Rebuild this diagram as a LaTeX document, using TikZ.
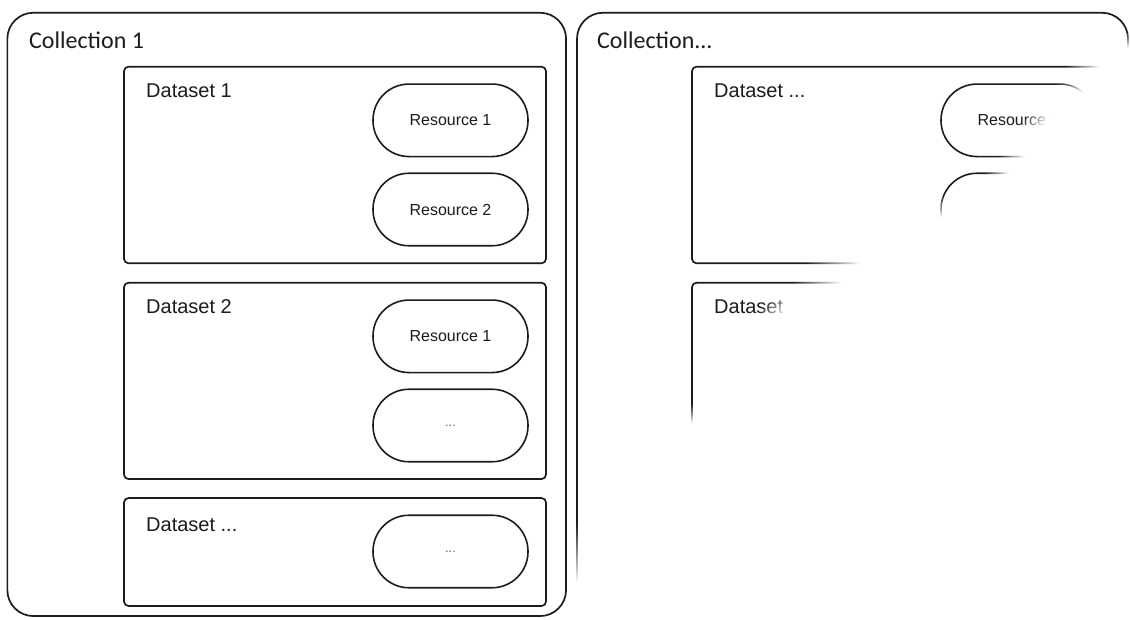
\documentclass[tikz,border=0pt]{standalone}
\usepackage{fontspec}
\setmainfont{Liberation Sans}
\newfontfamily\colfont{Carlito}
\usetikzlibrary{calc}
\definecolor{ink}{HTML}{1C1C1C}
\tikzset{
  coll/.style={draw=ink, line width=1.7pt, rounded corners=26pt, inner sep=0pt, outer sep=0pt, minimum width=#1},
  dset/.style={draw=ink, line width=1.7pt, rounded corners=4.5pt, inner sep=0pt, outer sep=0pt, minimum width=422pt},
  res/.style={draw=ink, line width=1.6pt, rounded corners=36pt, inner sep=0pt, outer sep=0pt, minimum width=155pt, minimum height=72.5pt, font=\fontsize{16}{18}\selectfont, text=ink},
  clabel/.style={anchor=base west, inner sep=0pt, font=\colfont\fontsize{24}{26}\selectfont, text=ink},
  dlabel/.style={anchor=base west, inner sep=0pt, font=\fontsize{20}{22}\selectfont, text=ink},
  dots/.style={font=\fontsize{13}{15}\selectfont, text=black!60}
}
\begin{document}
\begin{tikzpicture}[x=1pt,y=-1pt]
\useasboundingbox (0,0) rectangle (1130,619);
\fill[white] (0,0) rectangle (1130,619);

% ---------- Collection 1 ----------
\node[coll=558.7pt, minimum height=603.3pt] (c1) at (286.7,314.4) {};
\node[clabel] (c1l) at (29,48.3) {Collection 1};

\node[dset, minimum height=196.6pt] (d11) at (335,165) {};
\node[dlabel] (d11l) at (146,97.3) {Dataset 1};
\node[res] (r111) at (450.5,120.3) {Resource 1};
\node[res] (r112) at (450.5,209.5) {Resource 2};

\node[dset, minimum height=196.3pt] (d12) at (335,380.9) {};
\node[dlabel] (d12l) at (146,313) {Dataset 2};
\node[res] (r121) at (450.5,336.3) {Resource 1};
\node[res, dots] (r122) at (450.5,425.5) {...};

\node[dset, minimum height=108pt] (d13) at (335,552) {};
\node[dlabel] (d13l) at (146,531) {Dataset ...};
\node[res, dots] (r131) at (450.5,551.5) {...};

% ---------- Collection ... ----------
\node[coll=551pt, minimum height=603.3pt] (c2) at (852.5,314.4) {};
\node[clabel] (c2l) at (597,48.3) {Collection...};

\node[dset, minimum height=196.6pt] (d21) at (903,165) {};
\node[dlabel] (d21l) at (714,97) {Dataset ...};
\node[res] (r211) at (1018.5,120.3) {Resource 1};
\node[res] (r212) at (1018.5,209.5) {};

\node[dset, minimum height=196.3pt] (d22) at (903,380.9) {};
\node[dlabel] (d22l) at (714,313) {Dataset};

% ---------- fade-out of the right part ----------
\coordinate (s1) at (1140,26);   \coordinate (e1) at (1140,40);
\coordinate (s2) at (1067,65);   \coordinate (e2) at (1100,65);
\coordinate (s3) at (1057,84);   \coordinate (e3) at (1085,90);
\coordinate (s4) at (1023,120);  \coordinate (e4) at (1048,120);
\coordinate (s5) at (1000,156);  \coordinate (e5) at (1025,156);
\coordinate (s6) at (985,174);   \coordinate (e6) at (1007,174);
\coordinate (s7) at (935,200);   \coordinate (e7) at (935,222);
\coordinate (s8) at (807,263);   \coordinate (e8) at (860,263);
\coordinate (s9) at (793,283);   \coordinate (e9) at (840,283);
\coordinate (s10) at (762,306);  \coordinate (e10) at (792,306);
\coordinate (s11) at (686,413);  \coordinate (e11) at (686,430);
\coordinate (s12) at (571,530);  \coordinate (e12) at (571,590);
\coordinate (z1) at (571,640);
\coordinate (z2) at (1140,640);
\foreach \k in {1,...,20}{
  \pgfmathsetmacro\tt{(\k-1)/19}
  \pgfmathsetmacro\op{1/(21-\k)}
  \fill[white, fill opacity=\op]
    ($(s1)!\tt!(e1)$) -- ($(s2)!\tt!(e2)$) -- ($(s3)!\tt!(e3)$) -- ($(s4)!\tt!(e4)$)
    -- ($(s5)!\tt!(e5)$) -- ($(s6)!\tt!(e6)$) -- ($(s7)!\tt!(e7)$) -- ($(s8)!\tt!(e8)$)
    -- ($(s9)!\tt!(e9)$) -- ($(s10)!\tt!(e10)$) -- ($(s11)!\tt!(e11)$) -- ($(s12)!\tt!(e12)$)
    -- (z1) -- (z2) -- cycle;
}
\end{tikzpicture}
\end{document}
